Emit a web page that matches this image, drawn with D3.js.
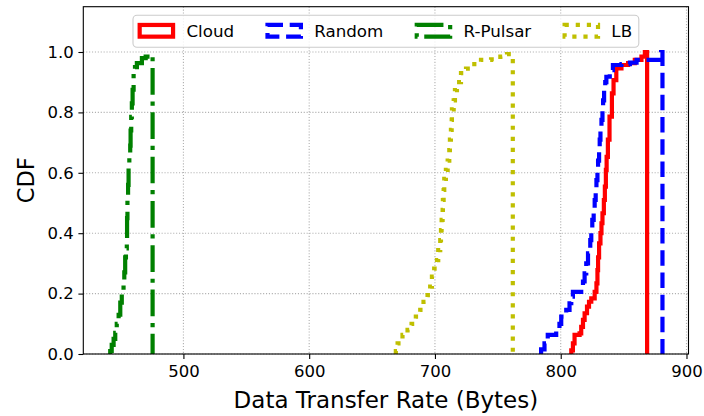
<!DOCTYPE html>
<html><head><meta charset="utf-8">
<script src="https://cdn.jsdelivr.net/npm/d3@7"></script>
<style>body{margin:0;background:#fff} svg{display:block} text{font-family:"DejaVu Sans",sans-serif;fill:#000}</style>
</head><body>
<svg id="c" width="704" height="416"></svg>
<script>
// ---- data ----
const seriesNames = ["Cloud", "Random", "R-Pulsar", "LB"];

const cloudX = [808.4, 809.7, 811.0, 815.0, 816.3, 817.7, 819.0, 820.9, 822.5, 824.3, 827.0, 828.4, 829.2, 829.7, 830.5, 831.6, 832.4, 833.2, 834.3, 835.1, 835.9, 836.5, 837.5, 838.8, 840.7, 842.0, 844.2, 848.3, 853.6, 858.9, 864.2, 866.9];
const cloudY = [0.012, 0.035, 0.063, 0.068, 0.09, 0.113, 0.135, 0.157, 0.173, 0.184, 0.206, 0.234, 0.278, 0.32, 0.366, 0.40, 0.433, 0.466, 0.51, 0.554, 0.61, 0.653, 0.71, 0.786, 0.863, 0.907, 0.946, 0.957, 0.963, 0.974, 0.985, 1.0];
const cloudEnd = 868.7;

const randomX = [784.4, 787.1, 789.7, 796.4, 799.0, 800.4, 804.4, 807.0, 808.4, 809.7, 816.3, 817.7, 819.0, 820.3, 821.7, 823.5, 824.3, 825.1, 826.2, 827.0, 827.8, 828.4, 829.2, 829.7, 830.5, 831.0, 831.6, 832.4, 833.2, 833.7, 834.5, 835.4, 836.3, 839.0, 841.5, 848.3, 855.0, 860.3, 879.8];
const randomY = [0.015, 0.035, 0.063, 0.08, 0.10, 0.124, 0.146, 0.168, 0.19, 0.206, 0.215, 0.24, 0.267, 0.30, 0.333, 0.377, 0.41, 0.444, 0.477, 0.51, 0.543, 0.576, 0.61, 0.64, 0.675, 0.71, 0.742, 0.775, 0.81, 0.84, 0.874, 0.90, 0.918, 0.94, 0.957, 0.96, 0.965, 0.974, 1.0];
const randomEnd = 880.9;

const pulsarX = [441.8, 443.0, 444.5, 445.8, 447.0, 448.5, 449.8, 451.0, 452.4, 453.0, 453.7, 454.3, 455.0, 455.2, 455.5, 456.0, 456.4, 457.0, 457.7, 458.0, 458.5, 459.0, 459.6, 460.4, 461.5, 463.0, 467.0, 470.0, 473.7];
const pulsarY = [0.01, 0.03, 0.05, 0.07, 0.10, 0.13, 0.17, 0.20, 0.235, 0.27, 0.32, 0.35, 0.38, 0.45, 0.51, 0.56, 0.62, 0.66, 0.69, 0.74, 0.785, 0.83, 0.875, 0.93, 0.95, 0.963, 0.98, 0.985, 0.99];
const pulsarEnd = 475.5;

const lbX = [668.9, 670.3, 674.2, 678.2, 681.4, 684.8, 688.3, 690.9, 694.1, 696.2, 697.6, 699.4, 701.6, 702.6, 704.2, 704.8, 705.3, 706.1, 706.3, 706.9, 707.4, 708.7, 710.1, 711.4, 711.9, 712.7, 713.3, 713.5, 714.9, 715.9, 717.5, 720.7, 724.7, 731.3, 736.6, 744.6, 752.0, 757.3];
const lbY = [0.01, 0.035, 0.063, 0.08, 0.10, 0.124, 0.146, 0.173, 0.195, 0.223, 0.256, 0.283, 0.311, 0.344, 0.377, 0.41, 0.444, 0.477, 0.51, 0.543, 0.58, 0.61, 0.64, 0.675, 0.71, 0.742, 0.775, 0.81, 0.84, 0.874, 0.90, 0.93, 0.945, 0.96, 0.974, 0.976, 0.985, 0.993];
const lbEnd = 761.9;

const xTicks = [500, 600, 700, 800, 900];
const yTicks = [0.0, 0.2, 0.4, 0.6, 0.8, 1.0];
const xLabel = "Data Transfer Rate (Bytes)";
const yLabel = "CDF";

// ---- styles ----
const styles = [
  {color: "#ff0000", dash: null},
  {color: "#0000ff", dash: "15.5,6.7"},
  {color: "#008000", dash: "26.7,6.7,4.2,6.7"},
  {color: "#bfbf00", dash: "4.2,6.9"}
];
const LW = 4.2;

const W = 704, H = 416;
const m = {left: 83.3, right: 15.5, top: 6.7, bottom: 62};
const svg = d3.select("#c");
const x = d3.scaleLinear().domain([420.4, 901.6]).range([m.left, W - m.right]);
const y = d3.scaleLinear().domain([0, 1.15]).range([H - m.bottom, m.top]);

svg.append("defs").append("clipPath").attr("id", "clip")
  .append("rect").attr("x", m.left).attr("y", m.top)
  .attr("width", W - m.left - m.right).attr("height", H - m.top - m.bottom);

// grid
const grid = svg.append("g").attr("stroke", "#b0b0b0").attr("stroke-width", 1.1).attr("stroke-dasharray", "1.1,1.8");
xTicks.forEach(t => grid.append("line").attr("x1", x(t)).attr("x2", x(t)).attr("y1", m.top).attr("y2", H - m.bottom));
yTicks.forEach(t => grid.append("line").attr("y1", y(t)).attr("y2", y(t)).attr("x1", m.left).attr("x2", W - m.right));

// curves
const series = [
  {xs: cloudX, ys: cloudY, end: cloudEnd},
  {xs: randomX, ys: randomY, end: randomEnd},
  {xs: pulsarX, ys: pulsarY, end: pulsarEnd},
  {xs: lbX, ys: lbY, end: lbEnd}
];
const line = d3.line().x(d => x(d[0])).y(d => y(d[1])).curve(d3.curveStepAfter);
const plot = svg.append("g").attr("clip-path", "url(#clip)");
series.forEach((s, i) => {
  const pts = [[s.xs[0], 0]].concat(s.xs.map((v, j) => [v, s.ys[j]])).concat([[s.end, 0]]);
  plot.append("path").attr("d", line(pts)).attr("fill", "none")
    .attr("stroke", styles[i].color).attr("stroke-width", LW)
    .attr("stroke-linejoin", "miter").attr("stroke-linecap", "butt")
    .attr("stroke-dasharray", styles[i].dash);
});

// axes
const xAxis = d3.axisBottom(x).tickValues(xTicks).tickFormat(d3.format("d")).tickSize(4.9).tickPadding(4.6);
const yAxis = d3.axisLeft(y).tickValues(yTicks).tickFormat(d3.format(".1f")).tickSize(4.9).tickPadding(4.6);
const gx = svg.append("g").attr("transform", `translate(0,${H - m.bottom})`).call(xAxis);
const gy = svg.append("g").attr("transform", `translate(${m.left},0)`).call(yAxis);
[gx, gy].forEach(g => {
  g.select(".domain").remove();
  g.selectAll(".tick line").attr("stroke", "#000").attr("stroke-width", 1.1);
  g.selectAll(".tick text").attr("font-size", 16.5).attr("font-family", "DejaVu Sans").attr("fill", "#000");
});
gx.selectAll(".tick text").attr("dy", "0.8em");

// spines
svg.append("rect").attr("x", m.left).attr("y", m.top)
  .attr("width", W - m.left - m.right).attr("height", H - m.top - m.bottom)
  .attr("fill", "none").attr("stroke", "#000").attr("stroke-width", 1.1);

// axis labels
svg.append("text").attr("x", (m.left + W - m.right) / 2).attr("y", 408)
  .attr("text-anchor", "middle").attr("font-size", 23).text(xLabel);
svg.append("text").attr("transform", `translate(34,${(m.top + H - m.bottom) / 2}) rotate(-90)`)
  .attr("text-anchor", "middle").attr("font-size", 22.5).text(yLabel);

// legend
const fs = 16.7, hl = 2.0 * fs, hh = 0.7 * fs, pad = 0.4 * fs, tp = 0.8 * fs, cs = 2.0 * fs;
const leg = svg.append("g");
const box = leg.append("rect");
const items = leg.append("g");
let cx = 0;
const cy = 30.8;
seriesNames.forEach((name, i) => {
  items.append("rect").attr("x", cx).attr("y", cy - hh / 2).attr("width", hl).attr("height", hh)
    .attr("fill", "none").attr("stroke", styles[i].color).attr("stroke-width", LW)
    .attr("stroke-dasharray", styles[i].dash).attr("stroke-linejoin", "miter");
  const t = items.append("text").attr("x", cx + hl + tp).attr("y", cy + 5.9).attr("font-size", fs).text(name);
  const w = t.node().getComputedTextLength();
  cx += hl + tp + w + (i < seriesNames.length - 1 ? cs : 0);
});
const total = cx + 2 * pad;
const left = (m.left + W - m.right) / 2 - total / 2;
items.attr("transform", `translate(${left + pad},0)`);
box.attr("x", left).attr("y", 15.2).attr("width", total).attr("height", 32.0)
  .attr("rx", 4).attr("fill", "#fff").attr("fill-opacity", 0.8)
  .attr("stroke", "#cccccc").attr("stroke-width", 1.1);
</script>
</body></html>
